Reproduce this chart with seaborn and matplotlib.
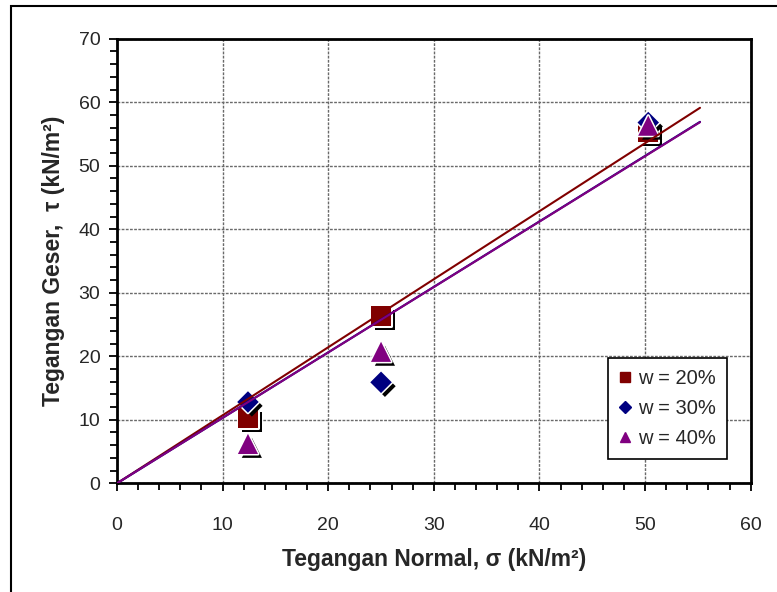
import numpy as np
import pandas as pd
import matplotlib
matplotlib.use("Agg")
import matplotlib.pyplot as plt
import matplotlib.patheffects as pe
from matplotlib.lines import Line2D
from matplotlib.patches import Rectangle
import seaborn as sns

# ---- data ----
normal_stress = [12.4, 25.0, 50.3]
shear_w20 = [10.3, 26.3, 55.3]
shear_w30 = [12.8, 15.9, 56.8]
shear_w40 = [6.2, 20.7, 56.3]
series_labels = ["w = 20%", "w = 30%", "w = 40%"]
trend_slopes = [1.071, 1.031, 1.030]
trend_x_end = 55.2

colors = ["#800000", "#000080", "#800080"]
markers = ["s", "D", "^"]
msizes = [210, 120, 210]

sns.set_theme(style="white")
plt.rcParams["font.family"] = ["Liberation Sans", "DejaVu Sans"]

fig = plt.figure(figsize=(7.77, 5.92), dpi=100)
ax = fig.add_axes([117 / 777, 1 - 483.3 / 592, (750.7 - 117) / 777, (483.3 - 38.7) / 592])

df = pd.DataFrame({
    "sigma": normal_stress * 3,
    "tau": shear_w20 + shear_w30 + shear_w40,
    "series": [series_labels[0]] * 3 + [series_labels[1]] * 3 + [series_labels[2]] * 3,
})

effects = [pe.SimplePatchShadow(offset=(2.8, -2.8), shadow_rgbFace="black", alpha=1.0),
           pe.Stroke(linewidth=2.2, foreground="white"), pe.Normal()]

for lab, col, mk, ms in zip(series_labels, colors, markers, msizes):
    sub = df[df["series"] == lab]
    sns.scatterplot(data=sub, x="sigma", y="tau", marker=mk, s=ms, color=col,
                    edgecolor="none", linewidth=0, ax=ax, zorder=3, legend=False)
    ax.collections[-1].set_path_effects(effects)

for slope, col in zip(trend_slopes, colors):
    xs = np.array([0.0, trend_x_end])
    sns.lineplot(x=xs, y=slope * xs, color=col, linewidth=1.5, ax=ax, zorder=4,
                 legend=False)

ax.set_xlim(0, 60)
ax.set_ylim(0, 70)
ax.set_xticks(np.arange(0, 61, 10))
ax.set_yticks(np.arange(0, 71, 10))
ax.set_xticks(np.arange(0, 61, 2), minor=True)
ax.set_yticks(np.arange(0, 71, 2), minor=True)
ax.grid(True, which="major", color="#6a6a6a", linestyle=(0, (2, 1)), linewidth=1.0)
ax.set_axisbelow(True)
ax.tick_params(which="major", direction="out", length=6, width=1.3, color="black",
               labelsize=14, bottom=True, left=True)
ax.tick_params(axis="x", which="major", pad=18)
ax.tick_params(axis="y", which="major", pad=6)
ax.tick_params(which="minor", direction="out", length=5, width=1.3, color="black",
               bottom=True, left=True)
for sp in ax.spines.values():
    sp.set_color("black")
    sp.set_linewidth(2)
    sp.set_visible(True)

ax.set_xlabel("Tegangan Normal, σ (kN/m²)", fontsize=16.5, fontweight="bold", labelpad=10)
ax.set_ylabel("Tegangan Geser,  τ (kN/m²)", fontsize=16.5, fontweight="bold", labelpad=10)

handles = [Line2D([], [], linestyle="none", marker=mk, color=col, markersize=ms_)
           for mk, col, ms_ in zip(markers, colors, [7, 6, 7])]
leg = ax.legend(handles, series_labels, loc="upper left",
                bbox_to_anchor=(0.775, 0.2816), fontsize=14.5, frameon=True,
                fancybox=False, framealpha=1, edgecolor="black",
                handlelength=0.6, handletextpad=0.35, borderpad=0.55,
                labelspacing=0.55, borderaxespad=0)
leg.get_frame().set_linewidth(1.2)
leg.set_zorder(10)

fig.patches.append(Rectangle((11 / 777, -0.05), 1.0, 1.05 - 6 / 592, transform=fig.transFigure,
                             fill=False, edgecolor="black", linewidth=1.5))

fig.savefig("out.png", dpi=100)
